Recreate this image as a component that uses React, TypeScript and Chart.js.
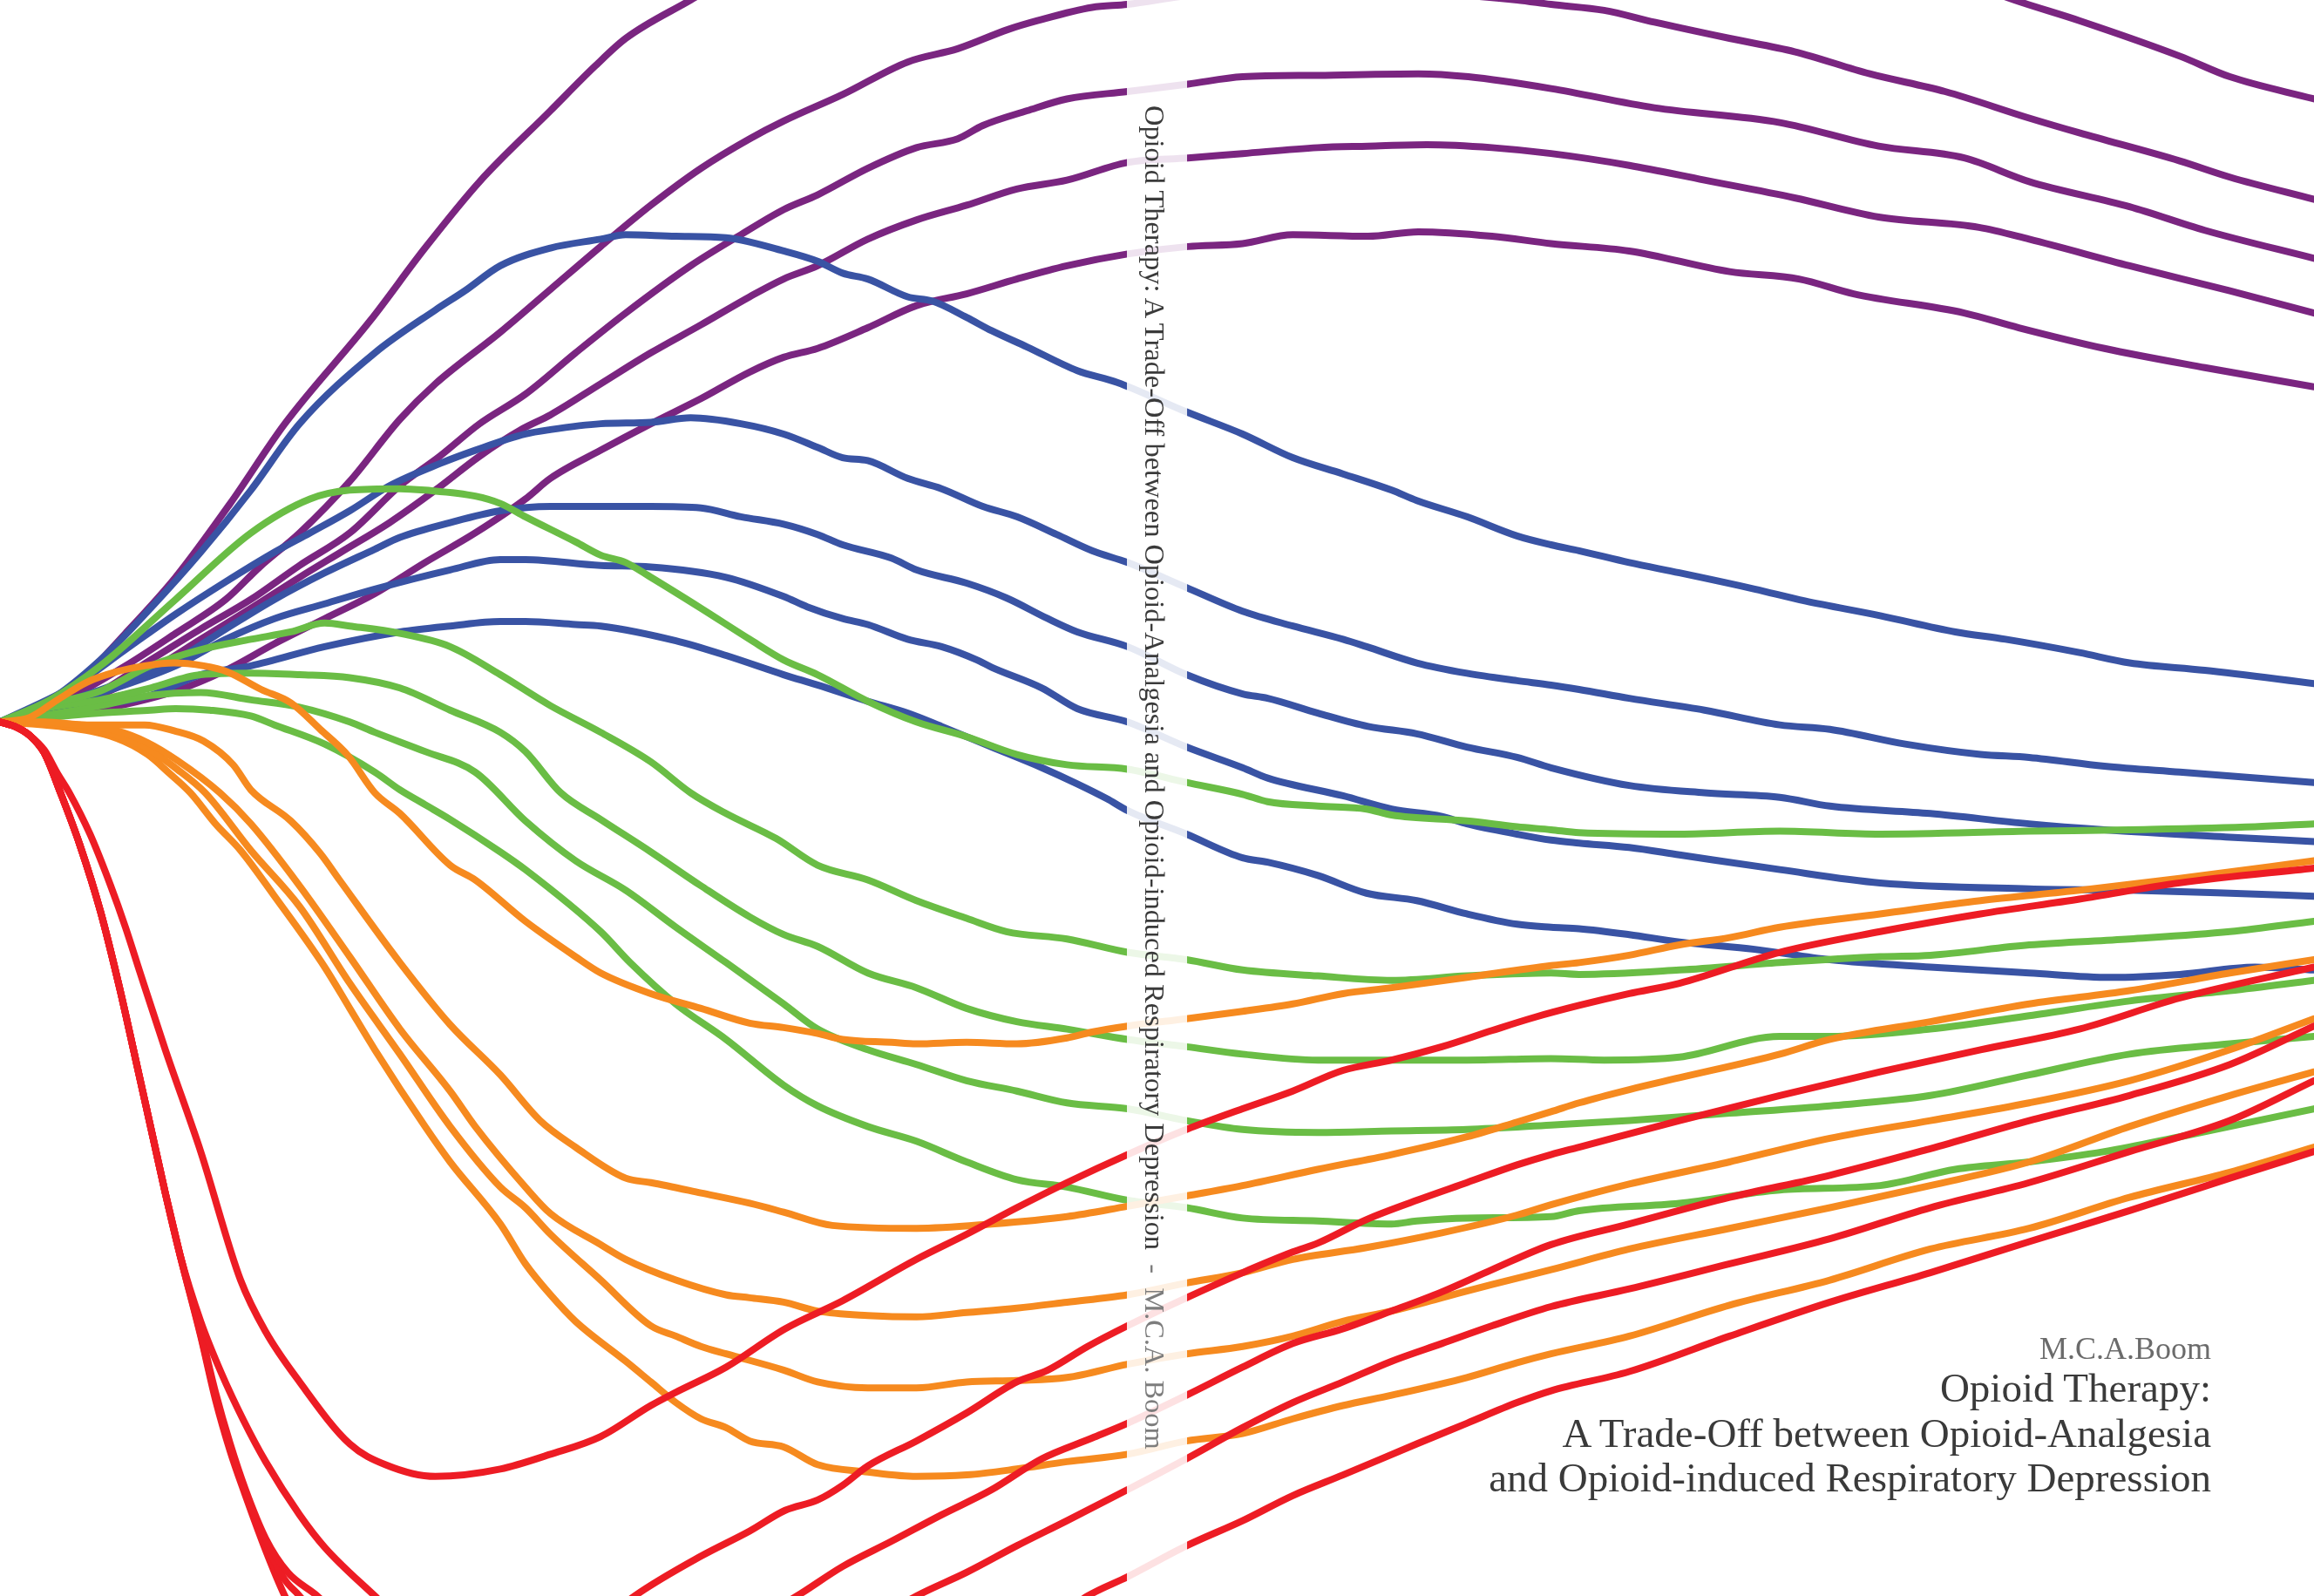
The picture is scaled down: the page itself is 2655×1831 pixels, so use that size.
import React, { useEffect, useRef } from 'react';
import { Chart, registerables } from 'chart.js';

Chart.register(...registerables);

type Pt = [number, number];

// axis extent: time (min) and effect change (%)
const timeRange: Pt = [0, 156.8];
const effectRange: Pt = [-59.2, 48.9];

// ---- purple family ----
const purple1: Pt[] = [[0,0],[2.0,0.6],[5.1,2.5],[8.5,6.0],[11.9,9.8],[15.6,14.8],[19.3,20.2],[25.1,27.2],[28.8,32.1],[32.5,36.6],[37.3,41.4],[40.3,44.4],[42.4,46.3],[46.8,48.9],[52,51.9],[60,54.9],[70,57.4],[80,58.7],[90,58.9],[100,58.1],[110,56.5],[120,54.1],[130,51.3],[136.5,48.9],[140.9,47.5],[147.7,45.1],[151.1,43.7],[156.8,42.2]];
const purple2: Pt[] = [[0,0],[4.4,1.5],[8.5,3.8],[11.9,6.0],[15.3,8.3],[17.6,10.5],[20.3,12.8],[23.7,16.3],[27.1,20.5],[29.5,22.9],[33.9,26.4],[37.3,29.3],[40.7,32.2],[44.1,35.0],[47.5,37.5],[50.8,39.5],[53.1,40.7],[57.1,42.5],[61.5,44.7],[64.9,45.6],[68.3,46.9],[70.3,47.5],[74.0,48.4],[76.4,48.6],[80.5,49.2],[86,49.6],[92,49.6],[98,49.3],[102.8,48.9],[105.1,48.6],[108.7,48.2],[112.1,47.4],[117.2,46.3],[121.6,45.4],[126.7,43.9],[131.8,42.7],[137.5,40.9],[140.9,39.9],[147.7,38.0],[151.1,36.9],[156.8,35.4]];
const purple3: Pt[] = [[0,0],[5.8,1.5],[10.2,4.2],[13.6,6.3],[17.0,8.3],[20.3,10.6],[23.7,12.8],[27.1,16.0],[29.8,18.0],[32.5,20.2],[35.6,22.2],[39.0,25.0],[42.4,27.7],[46.8,30.9],[50.2,33.0],[53.1,34.7],[55.4,35.7],[58.8,37.5],[62.1,38.9],[64.9,39.5],[66.6,40.4],[69.6,41.4],[72.3,42.2],[76.4,42.7],[80.5,43.2],[84.2,43.7],[89.3,43.8],[96.1,43.9],[99.5,43.7],[105.1,42.9],[112.1,41.6],[120.6,40.6],[127.3,39.0],[133.1,38.2],[137.5,36.6],[144.3,34.9],[149.4,33.3],[156.8,31.4]];
const purple4: Pt[] = [[0,0],[5.0,1.1],[10.2,3.5],[13.6,5.6],[17.0,7.7],[20.3,9.8],[23.1,11.5],[26.4,13.5],[29.5,15.7],[32.5,18.0],[35.3,19.8],[37.3,20.8],[40.7,22.9],[44.1,25.0],[47.5,26.9],[50.8,28.8],[53.1,30.0],[55.4,30.9],[58.8,32.7],[62.1,34.0],[65.5,35.0],[68.9,36.1],[72.3,36.7],[76.4,37.9],[80.5,38.2],[84.2,38.5],[89.3,38.9],[92.7,39.0],[96.7,39.1],[101.1,38.9],[105.1,38.5],[110.4,37.7],[115.5,36.7],[121.6,35.5],[127.3,34.2],[134.1,33.5],[137.5,32.7],[144.3,30.9],[151.1,29.2],[156.8,27.7]];
const purple5: Pt[] = [[0,0],[6.0,0.7],[11.9,2.1],[15.3,3.5],[18.6,5.3],[22.0,7.0],[25.4,8.7],[28.8,10.8],[32.2,12.8],[35.6,15.1],[37.3,16.5],[40.7,18.4],[44.1,20.2],[47.5,21.9],[50.8,23.7],[53.1,24.7],[55.4,25.3],[58.8,26.7],[62.1,28.2],[65.5,29.0],[68.9,30.0],[72.3,30.9],[76.4,31.7],[80.5,32.2],[84.2,32.4],[87.6,33.0],[92.7,32.9],[96.1,33.2],[101.1,32.9],[105.1,32.4],[110.4,31.9],[117.2,30.5],[121.9,30.0],[125.6,29.0],[133.1,27.7],[136.8,26.7],[142.6,25.3],[149.4,24.0],[156.8,22.7]];

// ---- blue family ----
const blue1: Pt[] = [[0,0],[3.4,1.5],[6.8,4.2],[10.2,7.7],[13.6,11.5],[17.0,15.7],[20.3,20.2],[25.4,25.0],[29.5,27.9],[31.5,29.2],[33.9,30.9],[37.3,32.1],[40.7,32.7],[42.4,33.0],[45.8,32.9],[49.2,32.8],[53.1,31.9],[55.4,31.2],[57.1,30.4],[58.8,30.0],[61.5,28.8],[63.2,28.5],[65.5,27.4],[67.2,26.5],[69.6,25.4],[73.0,23.8],[75.7,23.0],[80.4,21.0],[84.2,19.5],[87.6,17.9],[91.0,16.8],[94.3,15.7],[96.0,15.0],[99.4,13.9],[102.8,12.6],[105.1,12.0],[107.0,11.6],[110.4,10.8],[113.8,10.1],[118.9,9.0],[122.3,8.2],[127.4,7.2],[132.5,6.1],[135.9,5.6],[140.9,4.7],[144.3,4.0],[149.4,3.5],[156.8,2.6]];
const blue2: Pt[] = [[0,0],[5.1,2.5],[8.5,4.9],[11.9,7.3],[15.3,9.5],[18.6,11.5],[21.0,12.8],[23.7,14.3],[26.4,16.0],[29.8,17.5],[32.2,18.4],[35.6,19.5],[37.3,19.8],[40.7,20.2],[44.1,20.3],[46.8,20.6],[50.2,20.2],[53.1,19.5],[55.4,18.6],[57.1,17.9],[58.8,17.7],[61.5,16.5],[63.8,15.8],[66.6,14.6],[68.9,13.9],[71.6,12.7],[74.0,11.6],[76.4,10.8],[80.4,9.1],[84.2,7.5],[87.6,6.5],[91.0,5.6],[92.6,5.1],[96.0,4.0],[99.4,3.3],[102.8,2.8],[105.1,2.5],[107.0,2.2],[110.4,1.6],[115.5,0.8],[120.6,-0.2],[124.0,-0.5],[129.1,-1.5],[134.2,-2.2],[137.5,-2.4],[142.6,-3.0],[147.7,-3.4],[156.8,-4.1]];
const blue3: Pt[] = [[0,0],[6.0,1.9],[11.9,4.2],[15.3,6.3],[18.6,8.3],[22.0,10.1],[25.4,11.7],[27.1,12.5],[30.5,13.5],[33.9,14.3],[37.3,14.6],[40.7,14.6],[44.1,14.6],[47.5,14.5],[50.2,13.9],[53.1,13.4],[55.4,12.7],[57.1,12.0],[60.4,11.1],[62.1,10.3],[65.5,9.4],[68.2,8.4],[71.0,7.0],[73.0,6.1],[76.4,5.1],[80.4,3.2],[84.2,1.9],[85.9,1.6],[89.3,0.6],[92.7,-0.3],[96.0,-0.8],[99.4,-1.7],[102.8,-2.4],[105.1,-3.1],[110.4,-4.3],[115.5,-4.8],[120.6,-5.1],[124.0,-5.7],[130.8,-6.2],[137.5,-6.9],[142.6,-7.3],[151.1,-7.8],[156.8,-8.1]];
const blue4: Pt[] = [[0,0],[6.0,1.7],[11.9,3.8],[15.3,5.6],[18.6,7.0],[22.0,8.0],[25.4,9.0],[30.5,10.3],[33.9,11.0],[35.6,11.0],[40.7,10.6],[44.1,10.5],[49.2,9.8],[53.1,8.5],[54.7,7.8],[57.1,7.0],[58.8,6.6],[61.5,5.6],[63.8,5.1],[66.2,4.2],[67.2,3.7],[70.6,2.3],[73.0,0.9],[76.4,0.0],[80.4,-1.7],[84.2,-3.1],[85.9,-3.8],[91.0,-5.0],[94.3,-5.9],[97.7,-6.4],[99.4,-6.9],[102.8,-7.6],[105.1,-8.0],[107.0,-8.2],[110.4,-8.5],[113.8,-9.0],[120.6,-10.0],[127.4,-10.9],[137.5,-11.3],[144.3,-11.4],[151.1,-11.6],[156.8,-11.8]];
const blue5: Pt[] = [[0,0],[5.0,0.9],[10.2,1.8],[13.6,3.2],[17.0,3.8],[22.0,5.1],[27.1,6.1],[30.5,6.5],[33.9,6.8],[35.6,6.8],[39.0,6.6],[40.7,6.5],[45.8,5.5],[49.2,4.5],[53.1,3.2],[55.4,2.5],[58.8,1.4],[61.5,0.6],[63.8,-0.3],[67.2,-1.7],[70.6,-3.1],[73.0,-4.2],[75.0,-5.2],[76.4,-6.0],[80.4,-7.6],[84.2,-9.2],[85.9,-9.5],[89.3,-10.4],[92.6,-11.6],[96.0,-12.1],[99.4,-13.0],[102.8,-13.7],[105.1,-13.9],[107.0,-14.0],[110.4,-14.4],[113.8,-14.9],[118.9,-15.4],[124.0,-16.1],[130.8,-16.6],[137.5,-17.0],[143.0,-17.3],[147.7,-17.1],[152.8,-16.6],[156.8,-16.8]];

// ---- green family ----
const green1: Pt[] = [[0,0],[3.4,1.5],[6.8,3.8],[11.9,8.3],[17.0,12.8],[21.0,15.1],[23.7,15.7],[27.1,15.8],[28.8,15.7],[32.2,15.3],[33.9,14.8],[35.6,13.9],[39.0,12.2],[40.7,11.3],[42.4,10.8],[44.1,9.8],[47.5,7.7],[50.8,5.6],[53.1,4.2],[55.4,3.2],[58.8,1.4],[62.1,0.0],[65.5,-1.0],[68.9,-2.2],[72.3,-2.9],[76.4,-3.2],[80.4,-4.1],[84.2,-4.9],[85.9,-5.4],[89.3,-5.7],[92.6,-5.9],[94.3,-6.3],[99.4,-6.7],[102.8,-7.1],[105.1,-7.3],[107.0,-7.5],[113.8,-7.6],[120.6,-7.4],[127.4,-7.6],[137.5,-7.4],[144.3,-7.3],[152.8,-7.1],[156.8,-6.9]];
const green2: Pt[] = [[0,0],[3.0,1.1],[6.8,2.1],[10.2,3.8],[13.6,4.9],[17.0,5.6],[19.7,6.1],[22.0,6.7],[23.7,6.5],[27.1,6.0],[30.5,5.1],[33.9,3.2],[37.3,1.1],[40.7,-0.7],[44.1,-2.7],[46.8,-4.8],[49.2,-6.2],[52.6,-7.9],[55.4,-9.7],[58.8,-10.7],[62.1,-12.1],[65.5,-13.3],[68.2,-14.2],[72.3,-14.7],[76.4,-15.6],[80.4,-16.1],[84.2,-16.8],[89.3,-17.2],[94.3,-17.5],[99.4,-17.2],[105.1,-17.0],[107.0,-17.1],[113.8,-16.8],[120.6,-16.3],[127.4,-15.9],[130.8,-15.8],[137.5,-15.1],[144.3,-14.7],[151.1,-14.2],[156.8,-13.5]];
const green3: Pt[] = [[0,0],[3.0,0.9],[6.8,1.5],[10.2,2.3],[13.6,3.2],[17.0,3.3],[20.3,3.2],[23.7,3.0],[27.1,2.3],[30.5,0.8],[33.9,-0.7],[35.6,-2.0],[38.0,-4.8],[40.7,-6.6],[44.1,-8.8],[47.5,-11.1],[50.8,-13.2],[53.1,-14.4],[55.4,-15.2],[58.8,-17.0],[62.1,-18.0],[65.5,-19.4],[68.9,-20.3],[72.3,-20.8],[76.4,-21.5],[80.4,-22.0],[84.2,-22.5],[89.3,-22.9],[94.3,-22.9],[99.4,-22.9],[105.1,-22.8],[108.7,-22.9],[113.8,-22.7],[120.6,-21.3],[124.0,-21.3],[130.8,-20.8],[137.5,-19.9],[144.3,-18.9],[151.1,-18.2],[156.8,-17.5]];
const green4: Pt[] = [[0,0],[3.4,0.5],[6.8,1.1],[10.2,1.8],[13.6,2.0],[17.0,1.5],[20.3,1.0],[23.7,0.0],[25.4,-0.7],[28.8,-2.0],[32.2,-3.4],[35.6,-6.7],[39.0,-9.4],[42.4,-11.4],[45.8,-13.9],[49.2,-16.3],[53.1,-19.1],[55.4,-20.8],[58.8,-22.2],[62.1,-23.2],[65.5,-24.3],[68.9,-25.0],[72.3,-25.8],[76.4,-26.2],[80.4,-27.0],[84.2,-27.6],[89.3,-27.8],[94.3,-27.7],[99.4,-27.6],[105.1,-27.3],[110.4,-27.0],[117.2,-26.5],[124.0,-26.0],[130.8,-25.3],[137.5,-23.9],[144.3,-22.5],[151.1,-21.8],[156.8,-21.3]];
const green5: Pt[] = [[0,0],[6.8,0.6],[10.2,0.8],[11.9,0.9],[14.2,0.8],[17.0,0.4],[18.6,-0.2],[22.0,-1.5],[25.4,-3.4],[27.1,-4.6],[28.8,-5.6],[30.5,-6.6],[33.9,-8.8],[35.6,-10.0],[40.7,-14.2],[42.7,-16.3],[45.8,-19.1],[49.2,-21.5],[53.1,-24.6],[55.4,-26.0],[58.8,-27.4],[62.1,-28.4],[65.5,-29.8],[68.9,-31.0],[72.3,-31.5],[76.4,-32.4],[80.4,-32.9],[84.2,-33.6],[89.3,-33.8],[94.3,-34.0],[96.0,-33.8],[99.4,-33.6],[105.1,-33.5],[107.0,-33.1],[113.8,-32.6],[120.6,-31.7],[127.4,-31.4],[132.5,-30.3],[137.5,-29.8],[142.6,-29.1],[147.7,-28.1],[156.8,-26.2]];

// ---- orange family ----
const orange1: Pt[] = [[0,0],[2.0,0.3],[3.9,1.5],[5.9,2.7],[7.9,3.4],[9.8,3.8],[11.8,4.0],[13.8,3.8],[15.4,3.4],[17.7,2.2],[19.7,1.3],[21.7,-0.5],[23.6,-2.3],[25.4,-4.8],[27.1,-6.2],[30.5,-9.7],[32.2,-10.7],[35.6,-13.5],[39.0,-15.9],[40.7,-17.0],[44.1,-18.4],[47.5,-19.4],[50.8,-20.4],[53.1,-20.7],[55.4,-21.1],[57.1,-21.5],[60.4,-21.7],[62.1,-21.8],[65.5,-21.7],[68.9,-21.8],[72.3,-21.4],[74.0,-21.0],[76.4,-20.6],[80.4,-20.1],[84.2,-19.6],[87.6,-19.1],[91.0,-18.4],[94.3,-18.0],[99.4,-17.3],[105.1,-16.5],[107.0,-16.3],[110.4,-15.8],[113.8,-15.1],[117.2,-14.6],[120.6,-13.9],[127.4,-13.0],[134.2,-12.1],[140.9,-11.4],[147.7,-10.6],[156.8,-9.4]];
const orange2: Pt[] = [[0,0],[3.0,0.0],[5.9,-0.2],[9.8,-0.2],[11.8,-0.6],[13.8,-1.3],[15.8,-2.9],[17.0,-4.6],[19.7,-6.7],[21.7,-8.9],[23.0,-10.7],[27.1,-16.3],[30.5,-20.5],[33.9,-23.9],[36.6,-27.0],[39.0,-28.8],[42.4,-30.9],[44.1,-31.2],[47.5,-31.9],[50.8,-32.6],[53.1,-33.2],[56.4,-34.1],[62.1,-34.3],[67.2,-34.0],[72.3,-33.5],[76.4,-32.8],[80.4,-32.1],[84.2,-31.4],[89.3,-30.3],[94.3,-29.3],[99.4,-28.1],[102.8,-27.1],[105.1,-26.4],[107.0,-25.8],[110.4,-24.9],[113.8,-24.1],[120.6,-22.5],[124.0,-21.5],[130.8,-20.3],[137.5,-19.1],[144.3,-18.2],[151.1,-17.0],[156.8,-16.1]];
const orange3: Pt[] = [[0,0],[4.0,-0.1],[7.9,-0.6],[10.0,-1.4],[12.0,-2.6],[14.9,-4.8],[17.0,-6.9],[20.3,-11.1],[23.7,-15.9],[27.1,-20.8],[30.5,-25.0],[32.2,-27.4],[35.6,-31.5],[37.3,-33.3],[40.7,-35.4],[42.4,-36.4],[45.8,-37.8],[49.2,-38.8],[50.8,-39.0],[53.1,-39.3],[55.4,-39.9],[58.8,-40.2],[62.1,-40.3],[65.5,-40.0],[68.9,-39.7],[72.3,-39.3],[76.4,-38.8],[80.4,-38.0],[84.2,-37.3],[87.6,-36.4],[92.6,-35.6],[97.7,-34.6],[102.8,-33.4],[105.1,-32.7],[110.4,-31.3],[117.2,-29.8],[124.0,-28.2],[130.8,-27.0],[137.5,-25.8],[144.3,-24.3],[151.1,-22.2],[156.8,-20.1]];
const orange4: Pt[] = [[0,0],[4.0,-0.2],[7.9,-0.9],[10.0,-1.8],[12.0,-3.2],[13.9,-4.8],[17.0,-8.7],[20.3,-12.5],[23.7,-17.7],[27.1,-22.5],[30.5,-27.4],[33.9,-31.5],[35.6,-32.9],[37.3,-34.7],[40.7,-37.8],[44.1,-40.9],[45.8,-41.6],[47.5,-42.3],[49.2,-42.8],[53.1,-43.9],[55.4,-44.7],[58.8,-45.1],[62.1,-45.1],[65.5,-44.7],[68.9,-44.6],[72.3,-44.4],[76.4,-43.5],[80.4,-42.8],[84.2,-42.3],[87.6,-41.6],[91.0,-40.6],[94.3,-39.9],[97.7,-39.0],[101.1,-38.1],[105.1,-37.1],[110.4,-35.7],[117.2,-34.3],[124.0,-32.9],[130.8,-31.4],[137.5,-29.8],[144.3,-27.4],[151.1,-25.3],[156.8,-23.7]];
const orange5: Pt[] = [[0,0],[4.0,-0.3],[7.9,-1.1],[10.0,-2.2],[11.5,-3.5],[12.9,-4.8],[14.6,-6.9],[16.3,-8.7],[18.6,-11.8],[22.0,-16.6],[23.7,-19.4],[25.4,-22.2],[28.8,-27.4],[30.5,-29.8],[33.9,-34.0],[35.6,-36.7],[37.3,-38.8],[39.0,-40.6],[42.4,-43.3],[44.1,-44.7],[45.8,-46.1],[47.5,-47.2],[49.2,-47.8],[50.8,-48.7],[53.1,-49.1],[55.4,-50.3],[58.8,-50.8],[62.1,-51.1],[65.5,-51.0],[68.9,-50.6],[72.3,-50.1],[76.4,-49.6],[80.4,-48.7],[84.2,-48.2],[87.6,-47.2],[91.0,-46.3],[94.3,-45.6],[99.4,-44.4],[102.8,-43.4],[105.1,-42.8],[110.4,-41.6],[117.2,-39.5],[124.0,-37.8],[130.8,-35.7],[137.5,-34.3],[144.3,-32.2],[151.1,-30.5],[156.8,-28.8]];

// ---- red family ----
const red1: Pt[] = [[0,0],[1.0,-0.3],[2.0,-0.9],[3.0,-1.9],[3.9,-3.5],[4.7,-4.8],[6.1,-7.6],[7.5,-11.1],[8.5,-13.9],[9.5,-17.0],[11.2,-22.2],[13.6,-29.1],[16.3,-37.8],[18.0,-41.3],[20.3,-44.7],[23.7,-48.9],[26.1,-50.3],[29.5,-51.1],[33.9,-50.6],[37.3,-49.6],[40.7,-48.4],[44.1,-46.3],[45.8,-45.4],[49.2,-43.7],[53.2,-41.1],[57.1,-39.2],[62.1,-36.4],[65.5,-34.7],[68.9,-32.9],[72.3,-31.2],[76.4,-29.3],[80.4,-27.6],[84.2,-26.2],[87.6,-25.0],[91.0,-23.6],[94.3,-22.9],[97.7,-22.0],[101.1,-20.9],[104.0,-20.0],[107.0,-19.2],[110.4,-18.4],[113.8,-17.7],[120.6,-15.6],[127.4,-14.2],[134.2,-13.0],[140.9,-12.0],[147.7,-10.9],[156.8,-9.9]];
const red2: Pt[] = [[0,0],[1.0,-0.3],[2.0,-0.9],[3.0,-2.1],[4.1,-4.8],[5.4,-8.3],[6.8,-12.8],[8.1,-18.0],[9.2,-22.9],[10.2,-27.4],[11.2,-31.9],[12.2,-36.1],[13.6,-40.6],[15.0,-44.1],[16.5,-47.3],[18.0,-50.1],[20.3,-53.7],[22.0,-55.9],[25.4,-59.2],[28.0,-61.6],[32.0,-63.6],[36.0,-63.6],[40.0,-61.6],[43.0,-59.2],[47.5,-56.5],[50.8,-54.8],[53.2,-53.4],[55.4,-52.7],[57.1,-51.7],[58.8,-50.4],[62.1,-48.7],[65.5,-46.8],[68.9,-44.7],[71.0,-43.9],[73.7,-42.3],[76.4,-40.9],[80.4,-39.0],[84.2,-37.3],[87.6,-35.9],[89.3,-35.3],[92.6,-33.7],[96.0,-32.4],[99.4,-31.2],[102.8,-30.0],[105.1,-29.3],[107.0,-28.8],[113.8,-27.0],[120.6,-25.3],[127.4,-23.7],[134.2,-22.2],[140.9,-20.8],[147.7,-18.7],[156.8,-16.6]];
const red3: Pt[] = [[0,0],[1.0,-0.3],[2.0,-0.9],[3.0,-2.1],[4.1,-4.8],[5.4,-8.3],[6.8,-12.8],[8.1,-18.0],[9.2,-22.9],[10.2,-27.4],[11.2,-31.9],[12.2,-36.1],[13.6,-41.3],[14.6,-45.4],[15.6,-48.9],[16.6,-51.9],[18.0,-55.3],[19.5,-57.6],[21.5,-59.2],[24.0,-61.6],[28.0,-64.6],[33.0,-66.1],[38.0,-66.1],[43.0,-65.1],[48.0,-62.6],[54.0,-59.2],[57.1,-57.2],[60.4,-55.5],[63.8,-53.7],[67.2,-52.0],[70.6,-49.9],[74.0,-48.5],[76.4,-47.5],[80.4,-45.6],[84.2,-43.7],[87.6,-42.1],[91.0,-41.1],[94.3,-39.9],[97.7,-38.6],[101.1,-37.1],[105.1,-35.4],[110.4,-34.0],[117.2,-32.2],[124.0,-30.7],[130.8,-28.9],[137.5,-27.0],[144.3,-25.3],[151.1,-23.2],[156.8,-20.6]];
const red4: Pt[] = [[0,0],[1.0,-0.3],[2.0,-0.9],[3.0,-2.1],[4.1,-4.8],[5.4,-8.3],[6.8,-12.8],[8.1,-18.0],[9.2,-22.9],[10.2,-27.4],[11.2,-31.9],[12.2,-36.1],[13.6,-41.5],[14.6,-45.7],[15.6,-49.2],[16.6,-52.1],[18.0,-55.6],[19.3,-58.1],[20.3,-59.2],[23.0,-62.6],[27.0,-65.6],[33.0,-67.6],[40.0,-68.1],[47.0,-67.1],[54.0,-64.1],[58.0,-61.6],[62.1,-59.2],[65.5,-57.6],[68.9,-55.8],[72.3,-54.1],[76.4,-52.0],[80.4,-49.9],[84.2,-47.8],[87.6,-46.1],[91.0,-44.7],[94.3,-43.3],[97.7,-42.1],[101.1,-40.9],[105.1,-39.6],[110.4,-38.4],[117.2,-36.7],[124.0,-35.0],[130.8,-32.9],[137.5,-31.2],[144.3,-29.1],[151.1,-27.0],[156.8,-24.3]];
const red5: Pt[] = [[0,0],[1.0,-0.3],[2.0,-0.9],[3.0,-2.1],[4.1,-4.8],[5.4,-8.3],[6.8,-12.8],[8.1,-18.0],[9.2,-22.9],[10.2,-27.4],[11.2,-31.9],[12.2,-36.1],[13.6,-41.6],[14.6,-45.9],[15.6,-49.4],[16.6,-52.3],[18.0,-56.1],[19.3,-59.2],[22.0,-64.1],[26.0,-69.1],[32.0,-72.6],[40.0,-74.1],[48.0,-73.1],[56.0,-70.1],[64.0,-65.6],[70.0,-61.9],[73.7,-59.2],[76.4,-57.9],[80.4,-55.8],[84.2,-54.1],[87.6,-52.4],[91.0,-51.0],[96.0,-48.9],[99.4,-47.5],[102.8,-46.1],[105.1,-45.3],[110.4,-44.0],[117.2,-41.6],[124.0,-39.3],[130.8,-37.3],[137.5,-35.2],[144.3,-33.1],[151.1,-30.9],[156.8,-29.1]];

const PURPLE = '#7a2580';
const BLUE = '#3953a4';
const GREEN = '#6abd45';
const ORANGE = '#f68a1f';
const RED = '#ed1c24';

// first entry is drawn on top
const seriesList: { name: string; pts: Pt[]; color: string }[] = [
  { name: 'red1', pts: red1, color: RED },
  { name: 'red2', pts: red2, color: RED },
  { name: 'red3', pts: red3, color: RED },
  { name: 'red4', pts: red4, color: RED },
  { name: 'red5', pts: red5, color: RED },
  { name: 'orange1', pts: orange1, color: ORANGE },
  { name: 'orange2', pts: orange2, color: ORANGE },
  { name: 'orange3', pts: orange3, color: ORANGE },
  { name: 'orange4', pts: orange4, color: ORANGE },
  { name: 'orange5', pts: orange5, color: ORANGE },
  { name: 'green1', pts: green1, color: GREEN },
  { name: 'green2', pts: green2, color: GREEN },
  { name: 'green3', pts: green3, color: GREEN },
  { name: 'green4', pts: green4, color: GREEN },
  { name: 'green5', pts: green5, color: GREEN },
  { name: 'blue1', pts: blue1, color: BLUE },
  { name: 'blue2', pts: blue2, color: BLUE },
  { name: 'blue3', pts: blue3, color: BLUE },
  { name: 'blue4', pts: blue4, color: BLUE },
  { name: 'blue5', pts: blue5, color: BLUE },
  { name: 'purple1', pts: purple1, color: PURPLE },
  { name: 'purple2', pts: purple2, color: PURPLE },
  { name: 'purple3', pts: purple3, color: PURPLE },
  { name: 'purple4', pts: purple4, color: PURPLE },
  { name: 'purple5', pts: purple5, color: PURPLE },
];

const W = 2655;
const H = 1831;
const SERIF = "'Liberation Serif', 'DejaVu Serif', serif";

export default function App() {
  const canvasRef = useRef<HTMLCanvasElement | null>(null);

  useEffect(() => {
    const canvas = canvasRef.current;
    if (!canvas) return;
    const chart = new Chart(canvas, {
      type: 'line',
      data: {
        datasets: seriesList.map((s) => ({
          label: s.name,
          data: s.pts.map(([x, y]) => ({ x, y })),
          borderColor: s.color,
          backgroundColor: s.color,
          borderWidth: 8,
          pointRadius: 0,
          fill: false,
          cubicInterpolationMode: 'monotone' as const,
          borderCapStyle: 'round' as const,
          borderJoinStyle: 'round' as const,
        })),
      },
      options: {
        animation: false,
        responsive: false,
        maintainAspectRatio: false,
        devicePixelRatio: 1,
        events: [],
        layout: { padding: 0 },
        plugins: { legend: { display: false }, tooltip: { enabled: false }, title: { display: false } },
        scales: {
          x: { type: 'linear', min: timeRange[0], max: timeRange[1], display: false },
          y: { type: 'linear', min: effectRange[0], max: effectRange[1], display: false },
        },
      },
    });
    return () => chart.destroy();
  }, []);

  const titleLine: React.CSSProperties = {
    position: 'absolute',
    right: 118,
    fontFamily: SERIF,
    fontSize: 47,
    lineHeight: '47px',
    color: '#3a3a3a',
    whiteSpace: 'nowrap',
    textAlign: 'right',
  };

  return (
    <div style={{ position: 'absolute', left: 0, top: 0, width: W, height: H, overflow: 'hidden', background: '#ffffff' }}>
      <canvas ref={canvasRef} width={W} height={H} style={{ position: 'absolute', left: 0, top: 0, width: W, height: H }} />
      {/* spine band */}
      <div style={{ position: 'absolute', left: 1293, top: 0, width: 69, height: H, background: 'rgba(255,255,255,0.87)' }} />
      <div
        style={{
          position: 'absolute',
          left: 1341,
          top: 121,
          transformOrigin: '0 0',
          transform: 'rotate(90deg)',
          fontFamily: SERIF,
          fontSize: 32.4,
          lineHeight: '32px',
          color: '#3a3a3a',
          whiteSpace: 'nowrap',
        }}
      >
        Opioid Therapy: A Trade-Off between Opioid-Analgesia and Opioid-induced Respiratory Depression
        <span style={{ color: '#7d7d7d' }}>{'\u00a0\u00a0-\u00a0\u00a0M.C.A. Boom'}</span>
      </div>
      {/* front cover text */}
      <div style={{ position: 'absolute', right: 118, top: 1529, fontFamily: SERIF, fontSize: 36, lineHeight: '36px', color: '#6b6b6b', whiteSpace: 'nowrap' }}>
        M.C.A.Boom
      </div>
      <div style={{ ...titleLine, top: 1569 }}>Opioid Therapy:</div>
      <div style={{ ...titleLine, top: 1621 }}>A Trade-Off between Opioid-Analgesia</div>
      <div style={{ ...titleLine, top: 1672 }}>and Opioid-induced Respiratory Depression</div>
    </div>
  );
}
